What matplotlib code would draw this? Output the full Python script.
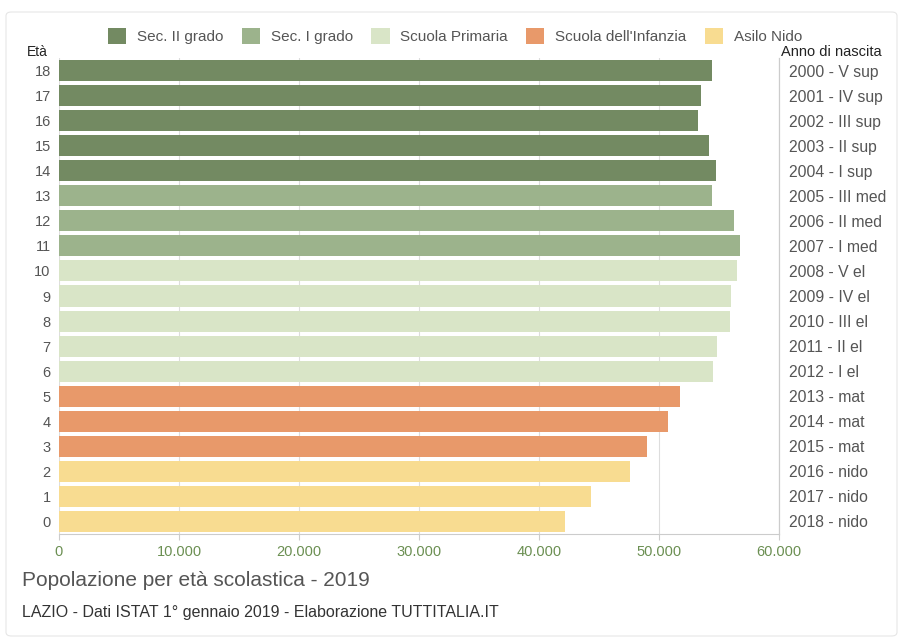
import matplotlib
matplotlib.use("Agg")
import matplotlib.pyplot as plt
from matplotlib.patches import Patch, FancyBboxPatch

plt.rcParams["font.family"] = ["Liberation Sans", "DejaVu Sans"]

# Data, age 0..18
ages = list(range(19))
population = [42170, 44330, 47580, 49000, 50730, 51750, 54500, 54830, 55920,
              56000, 56500, 56720, 56220, 54390, 54720, 54170, 53220, 53500, 54390]
birth_labels = ["2018 - nido", "2017 - nido", "2016 - nido", "2015 - mat", "2014 - mat",
                "2013 - mat", "2012 - I el", "2011 - II el", "2010 - III el", "2009 - IV el",
                "2008 - V el", "2007 - I med", "2006 - II med", "2005 - III med",
                "2004 - I sup", "2003 - II sup", "2002 - III sup", "2001 - IV sup",
                "2000 - V sup"]
groups = ["Sec. II grado", "Sec. I grado", "Scuola Primaria", "Scuola dell'Infanzia", "Asilo Nido"]
group_colors = ["#738a62", "#9cb38c", "#d9e5c7", "#e8996a", "#f8dc91"]
age_group = [4, 4, 4, 3, 3, 3, 2, 2, 2, 2, 2, 1, 1, 1, 0, 0, 0, 0, 0]

fig = plt.figure(figsize=(9.03, 6.40), dpi=100)
ax = fig.add_axes([0.0653, 0.1664, 0.7973, 0.7422])

colors = [group_colors[g] for g in age_group]
ax.barh(ages, population, height=0.84, color=colors, zorder=2)

ax.set_xlim(0, 60000)
ax.set_ylim(-0.5, 18.5)
ax.set_xticks(range(0, 60001, 10000))
ax.set_xticklabels(["0", "10.000", "20.000", "30.000", "40.000", "50.000", "60.000"])
ax.set_yticks(ages)
ax.set_yticklabels([str(a) for a in ages])
ax.tick_params(axis="x", length=4, color="#cccccc", labelcolor="#6b8f52", labelsize=10.5, pad=4)
ax.tick_params(axis="y", length=0, labelcolor="#555555", labelsize=10.5, pad=6)
ax.grid(axis="x", color="#dddddd", linewidth=0.8, zorder=0)
for s in ("top", "left"):
    ax.spines[s].set_visible(False)
ax.spines["bottom"].set_color("#cccccc")
ax.spines["right"].set_color("#cccccc")

ax2 = ax.twinx()
ax2.set_ylim(ax.get_ylim())
ax2.set_yticks(ages)
ax2.set_yticklabels(birth_labels)
ax2.tick_params(axis="y", length=0, labelcolor="#555555", labelsize=11.3, pad=7)
for s in ("top", "left", "bottom"):
    ax2.spines[s].set_visible(False)
ax2.spines["right"].set_color("#cccccc")

fig.text(27 / 903, 1 - 52 / 640, "Età", fontsize=10, color="#222222", ha="left", va="center")
fig.text(781 / 903, 1 - 52 / 640, "Anno di nascita", fontsize=10.5, color="#222222",
         ha="left", va="center")

handles = [Patch(facecolor=c, edgecolor="none") for c in group_colors]
fig.legend(handles, groups, loc="center", bbox_to_anchor=(455 / 903, 1 - 36 / 640),
           ncol=5, frameon=False, fontsize=11, labelcolor="#555555",
           handlelength=1.2, handleheight=1.2, handletextpad=0.7, columnspacing=1.2)

fig.text(22 / 903, 1 - 581 / 640, "Popolazione per età scolastica - 2019", fontsize=15,
         color="#555555", ha="left", va="center")
fig.text(22 / 903, 1 - 612 / 640, "LAZIO - Dati ISTAT 1° gennaio 2019 - Elaborazione TUTTITALIA.IT",
         fontsize=11.5, color="#333333", ha="left", va="center")

frame = FancyBboxPatch((6 / 903, 4 / 640), 891 / 903, 624 / 640, boxstyle="round,pad=0,rounding_size=0.006",
                       transform=fig.transFigure, facecolor="none", edgecolor="#e6e6e6", linewidth=0.8)
fig.patches.append(frame)

fig.savefig("out.png", dpi=100)
